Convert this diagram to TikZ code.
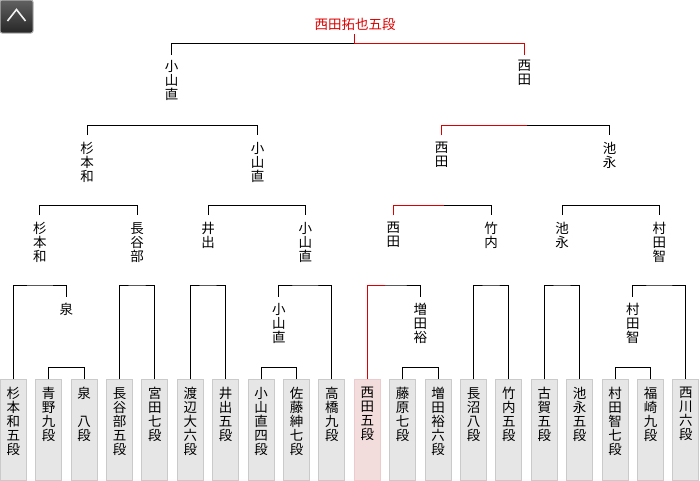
\documentclass[tikz,border=0pt]{standalone}
\usepackage{fontspec}
\setmainfont{Noto Sans CJK JP}
\usetikzlibrary{calc}
\definecolor{winred}{HTML}{DD0000}
\definecolor{boxfill}{HTML}{E6E6E6}
\definecolor{boxline}{HTML}{CACACA}
\definecolor{pinkfill}{HTML}{F3DCDC}
\definecolor{pinkline}{HTML}{EBCBCB}
\newcommand\jfont{\fontsize{13.5}{14}\selectfont}
\begin{document}
\begin{tikzpicture}[x=1pt,y=-1pt,line width=1pt,
  entry/.style={draw=boxline,fill=boxfill,minimum width=26pt,minimum height=101pt,inner sep=0pt,anchor=north},
  winentry/.style={entry,draw=pinkline,fill=pinkfill},
  winner/.style={align=center,anchor=north,inner sep=0pt,font=\jfont},
  bracket/.style={draw=black,line width=1pt},
  redline/.style={draw=winred,line width=1pt},
  btn/.style={minimum size=33pt,inner sep=0pt,rounded corners=2pt,draw=gray!60,top color=black!62,bottom color=black!85}]
\useasboundingbox (0,0) rectangle (700,480);
% button
\node[btn] (btn) at (16.5,16.5) {};
\draw[white!90!gray,line width=1.6pt] ($(btn.center)+(-9,4.5)$) -- ($(btn.center)+(0,-7)$) -- ($(btn.center)+(9,4.5)$);
% entries
\foreach \i/\x/\t in {1/13.3/{杉\\本\\和\\五\\段},2/48.7/{青\\野\\九\\段},3/84.1/{泉\\\phantom{八}\\八\\段},
  4/119.5/{長\\谷\\部\\五\\段},5/154.9/{宮\\田\\七\\段},6/190.3/{渡\\辺\\大\\六\\段},7/225.7/{井\\出\\五\\段},
  8/261.1/{小\\山\\直\\四\\段},9/296.5/{佐\\藤\\紳\\七\\段},10/331.9/{高\\橋\\九\\段},
  12/402.7/{藤\\原\\七\\段},13/438.1/{増\\田\\裕\\六\\段},14/473.5/{長\\沼\\八\\段},15/508.9/{竹\\内\\五\\段},
  16/544.3/{古\\賀\\五\\段},17/579.7/{池\\永\\五\\段},18/615.1/{村\\田\\智\\七\\段},19/650.5/{福\\崎\\九\\段},
  20/685.9/{西\\川\\六\\段}}{
  \node[entry] (b\i) at (\x,379) {};
  \node[winner] (t\i) at ([yshift=-7.7pt]b\i.north) {\t};
}
\node[winentry] (b11) at (367.3,379) {};
\node[winner] (t11) at ([yshift=-7.7pt]b11.north) {西\\田\\五\\段};
% level 1 winners
\node[winner] (w1a) at (66.4,303) {泉};
\node[winner] (w1b) at (278.8,303) {小\\山\\直};
\node[winner] (w1c) at (420.4,303) {増\\田\\裕};
\node[winner] (w1d) at (632.8,303) {村\\田\\智};
% level 2 winners
\node[winner] (w2a) at (39.8,221.7) {杉\\本\\和};
\node[winner] (w2b) at (137.2,221.7) {長\\谷\\部};
\node[winner] (w2c) at (208,221.7) {井\\出};
\node[winner] (w2d) at (305.4,221.7) {小\\山\\直};
\node[winner] (w2e) at (393.3,221.7) {西\\田};
\node[winner] (w2f) at (491.2,221.7) {竹\\内};
\node[winner] (w2g) at (562,221.7) {池\\永};
\node[winner] (w2h) at (659.4,221.7) {村\\田\\智};
% level 3 winners
\node[winner] (w3a) at (87.2,141.7) {杉\\本\\和};
\node[winner] (w3b) at (257.6,141.7) {小\\山\\直};
\node[winner] (w3c) at (441.6,141.7) {西\\田};
\node[winner] (w3d) at (609.5,141.7) {池\\永};
% level 4 winners
\node[winner] (w4a) at (171.6,60) {小\\山\\直};
\node[winner] (w4b) at (524.3,60) {西\\田};
% champion
\node[inner sep=0pt,font=\jfont,text=winred] (champ) at (355,24) {西田拓也五段};
% connector ends above winner names
\foreach \n in {w1a,w1b,w1c,w1d,w2a,w2b,w2c,w2d,w2e,w2f,w2g,w2h,w3a,w3b,w3c,w3d}
  \coordinate (\n-t) at ([yshift=6.5pt]\n.north);
\coordinate (w4a-t) at ([yshift=5pt]w4a.north);
\coordinate (w4b-t) at ([yshift=5pt]w4b.north);
% bracket midpoints
\coordinate (m1a) at (66.4,367);
\coordinate (m1b) at (278.8,367);
\coordinate (m1c) at (420.4,367);
\coordinate (m1d) at (632.8,367);
\coordinate (m2a) at (39.8,285);
\coordinate (m2b) at (137.2,285);
\coordinate (m2c) at (208,285);
\coordinate (m2d) at (305.4,285);
\coordinate (m2e) at (393.3,285);
\coordinate (m2f) at (491.2,285);
\coordinate (m2g) at (562,285);
\coordinate (m2h) at (659.4,285);
\coordinate (m3a) at (87.2,205.7);
\coordinate (m3b) at (257.6,205.7);
\coordinate (m3c) at (441.6,205.7);
\coordinate (m3d) at (609.5,205.7);
\coordinate (m4a) at (171.6,125.3);
\coordinate (m4b) at (524.3,125.3);
\coordinate (mf) at (354,43.3);
\coordinate (champ-b) at (354,33.5);
\coordinate (r2e) at (385,285);
\coordinate (r3c) at (444,205.7);
\coordinate (r4b) at (526.7,125.3);
% level 1 brackets
\draw[bracket] (b2.north) |- (m1a) -| (b3.north);
\draw[bracket] (b8.north) |- (m1b) -| (b9.north);
\draw[bracket] (b12.north) |- (m1c) -| (b13.north);
\draw[bracket] (b18.north) |- (m1d) -| (b19.north);
% level 2 brackets
\draw[bracket] (b1.north) |- (m2a) -| (w1a-t);
\draw[bracket] (b4.north) |- (m2b) -| (b5.north);
\draw[bracket] (b6.north) |- (m2c) -| (b7.north);
\draw[bracket] (w1b-t) |- (m2d) -| (b10.north);
\draw[bracket] (b11.north) |- (m2e) -| (w1c-t);
\draw[bracket] (b14.north) |- (m2f) -| (b15.north);
\draw[bracket] (b16.north) |- (m2g) -| (b17.north);
\draw[bracket] (w1d-t) |- (m2h) -| (b20.north);
% level 3 brackets
\draw[bracket] (w2a-t) |- (m3a) -| (w2b-t);
\draw[bracket] (w2c-t) |- (m3b) -| (w2d-t);
\draw[bracket] (w2e-t) |- (m3c) -| (w2f-t);
\draw[bracket] (w2g-t) |- (m3d) -| (w2h-t);
% level 4 brackets
\draw[bracket] (w3a-t) |- (m4a) -| (w3b-t);
\draw[bracket] (w3c-t) |- (m4b) -| (w3d-t);
% final
\draw[bracket] (w4a-t) |- (mf);
% winner path
\draw[redline] (b11.north) |- (r2e);
\draw[redline] (w2e-t) |- (r3c);
\draw[redline] (w3c-t) |- (r4b);
\draw[redline] (w4b-t) |- (mf) -- (champ-b);
\end{tikzpicture}
\end{document}
